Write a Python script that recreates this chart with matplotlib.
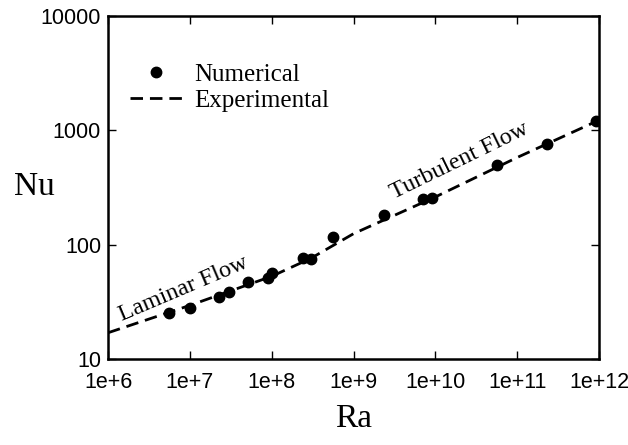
import matplotlib.pyplot as plt
from matplotlib.ticker import FixedLocator, FixedFormatter, NullLocator

# Numerical results
ra_num = [5.6e6, 9.9e6, 2.27e7, 3.0e7, 5.2e7, 9.1e7, 1.0e8, 2.44e8, 3.03e8,
          5.66e8, 2.36e9, 7.0e9, 9.2e9, 5.7e10, 2.3e11, 9.2e11]
nu_num = [25.1, 28.1, 35.1, 38.3, 46.9, 50.8, 56.2, 76.0, 74.5,
          117.5, 180.7, 252.0, 254.5, 498.0, 755.0, 1213.0]

# Experimental correlation curve
ra_exp = [1e6, 1e7, 1e8, 3e8, 1e9, 1e10, 1e11, 1e12]
nu_exp = [17.0, 29.5, 53.0, 76.0, 125.0, 262.0, 580.0, 1230.0]

x_ticks = [1e6, 1e7, 1e8, 1e9, 1e10, 1e11, 1e12]
x_labels = ["1e+6", "1e+7", "1e+8", "1e+9", "1e+10", "1e+11", "1e+12"]
y_ticks = [10, 100, 1000, 10000]
y_labels = ["10", "100", "1000", "10000"]

serif = "Liberation Serif"
sans = "Liberation Sans"

fig = plt.figure(figsize=(6.28, 4.45), dpi=100)
ax = fig.add_axes([0.172, 0.193, 0.782, 0.771])

ax.plot(ra_exp, nu_exp, color="black", linestyle=(0, (4.5, 2.5)), linewidth=2.0,
        label="Experimental")
ax.plot(ra_num, nu_num, linestyle="none", marker="o", markersize=7.5,
        color="black", label="Numerical")

ax.set_xscale("log")
ax.set_yscale("log")
ax.set_xlim(1e6, 1e12)
ax.set_ylim(10, 10000)

ax.xaxis.set_major_locator(FixedLocator(x_ticks))
ax.xaxis.set_major_formatter(FixedFormatter(x_labels))
ax.yaxis.set_major_locator(FixedLocator(y_ticks))
ax.yaxis.set_major_formatter(FixedFormatter(y_labels))
ax.xaxis.set_minor_locator(NullLocator())
ax.yaxis.set_minor_locator(NullLocator())

ax.tick_params(which="major", direction="in", length=6, width=1,
               top=True, right=True, labelsize=15.5)
ax.tick_params(axis="x", pad=9)
ax.tick_params(axis="y", pad=5)
for lab in ax.get_xticklabels() + ax.get_yticklabels():
    lab.set_fontfamily(sans)

for sp in ax.spines.values():
    sp.set_linewidth(1.8)

ax.set_xlabel("Ra", fontsize=24, fontfamily=serif)
ax.xaxis.set_label_coords(0.499, -0.128)
ax.set_ylabel("Nu", fontsize=24, fontfamily=serif, rotation=0, va="center", ha="center")
ax.yaxis.set_label_coords(-0.149, 0.501)

ax.text(8.3e6, 41, "Laminar Flow", fontsize=17.5, fontfamily=serif,
        rotation=23, ha="center", va="center", rotation_mode="anchor")
ax.text(1.95e10, 545, "Turbulent Flow", fontsize=17.5, fontfamily=serif,
        rotation=26, ha="center", va="center", rotation_mode="anchor")

handles, labels = ax.get_legend_handles_labels()
leg = ax.legend(handles[::-1], labels[::-1], loc="upper left",
                bbox_to_anchor=(0.045, 0.862), frameon=False, borderpad=0,
                borderaxespad=0, handlelength=2.1, handletextpad=0.45,
                labelspacing=0.15, prop={"family": serif, "size": 18})

plt.savefig("out.png", dpi=100)
